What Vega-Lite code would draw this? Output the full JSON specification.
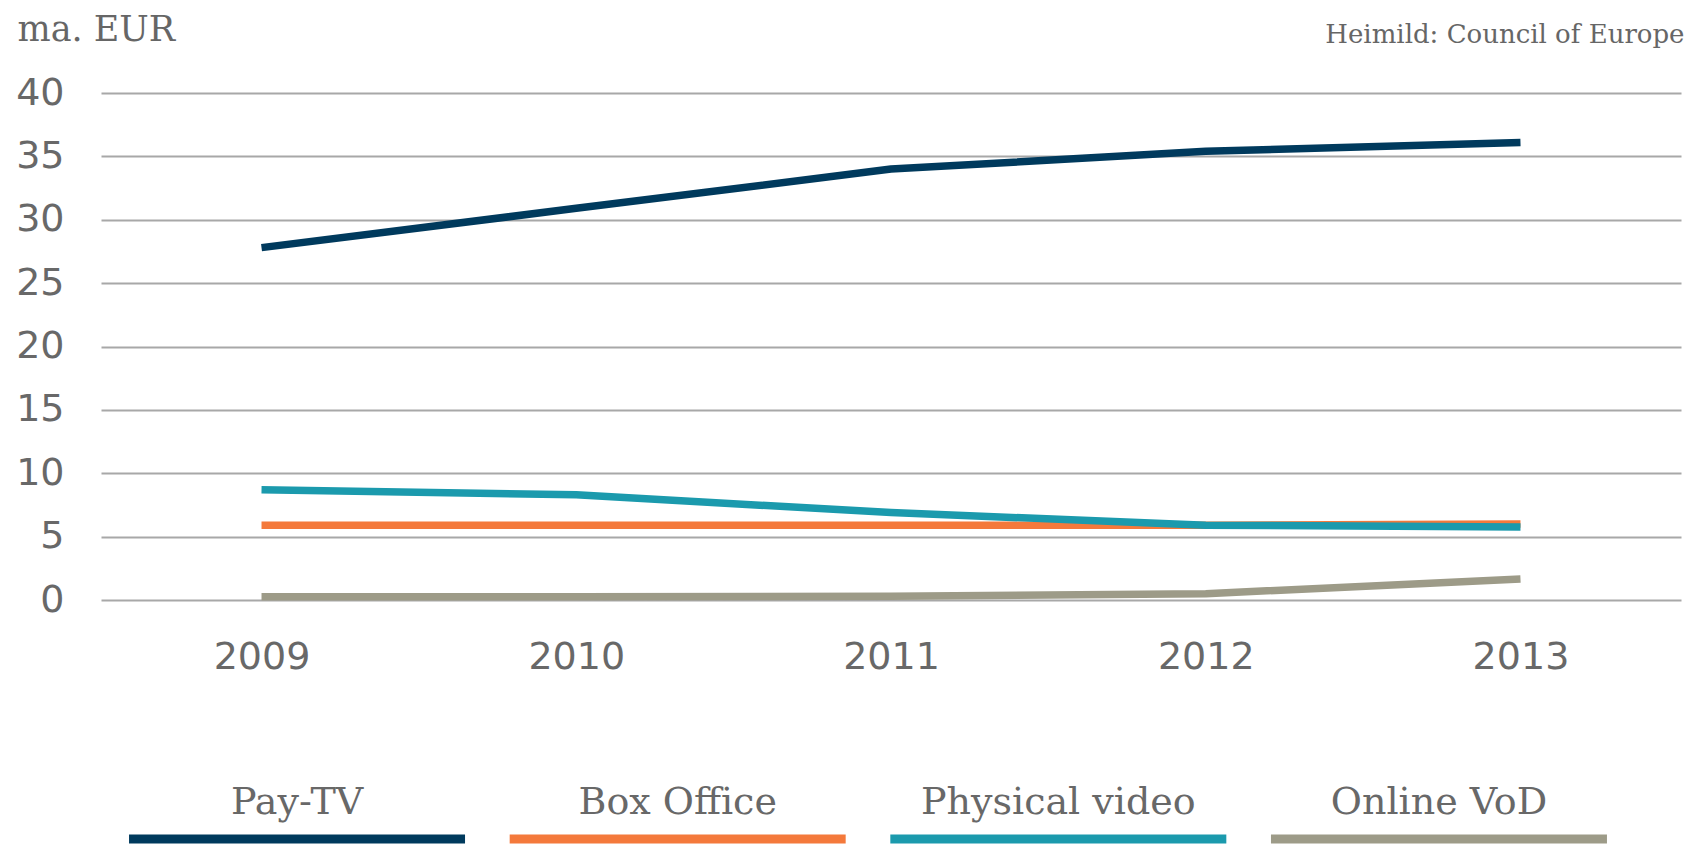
{
  "$schema": "https://vega.github.io/schema/vega-lite/v6.json",
  "padding": {"left": 15, "top": 12, "right": 0, "bottom": 0},
  "autosize": {"type": "pad"},
  "background": "white",
  "config": {"view": {"stroke": null}, "font": "DejaVu Sans"},
  "bounds": "flush",
  "spacing": 199,
  "datasets": {
    "series": [
      {"series": "Pay-TV", "year": "2009", "value": 27.8},
      {"series": "Pay-TV", "year": "2010", "value": 30.9},
      {"series": "Pay-TV", "year": "2011", "value": 34.0},
      {"series": "Pay-TV", "year": "2012", "value": 35.4},
      {"series": "Pay-TV", "year": "2013", "value": 36.1},
      {"series": "Box Office", "year": "2009", "value": 5.9},
      {"series": "Box Office", "year": "2010", "value": 5.9},
      {"series": "Box Office", "year": "2011", "value": 5.9},
      {"series": "Box Office", "year": "2012", "value": 5.9},
      {"series": "Box Office", "year": "2013", "value": 6.0},
      {"series": "Physical video", "year": "2009", "value": 8.7},
      {"series": "Physical video", "year": "2010", "value": 8.3},
      {"series": "Physical video", "year": "2011", "value": 6.9},
      {"series": "Physical video", "year": "2012", "value": 5.9},
      {"series": "Physical video", "year": "2013", "value": 5.75},
      {"series": "Online VoD", "year": "2009", "value": 0.25},
      {"series": "Online VoD", "year": "2010", "value": 0.25},
      {"series": "Online VoD", "year": "2011", "value": 0.3},
      {"series": "Online VoD", "year": "2012", "value": 0.5},
      {"series": "Online VoD", "year": "2013", "value": 1.65}
    ],
    "legend": [
      {"series": "Pay-TV"},
      {"series": "Box Office"},
      {"series": "Physical video"},
      {"series": "Online VoD"}
    ]
  },
  "vconcat": [
    {
      "width": 1580,
      "height": 507,
      "data": {"name": "series"},
      "mark": {"type": "line", "strokeWidth": 7.5, "interpolate": "linear", "strokeJoin": "round"},
      "encoding": {
        "x": {
          "field": "year",
          "type": "ordinal",
          "scale": {"type": "point", "padding": 0.51},
          "axis": {
            "labelAngle": 0,
            "labelFont": "DejaVu Sans",
            "labelFontSize": 38,
            "labelColor": "#686868",
            "labelPadding": 38,
            "ticks": false,
            "domain": false,
            "grid": false,
            "title": "Heimild: Council of Europe",
            "titleFont": "DejaVu Serif",
            "titleFontSize": 26,
            "titleFontWeight": "normal",
            "titleColor": "#666666",
            "titleX": 1583,
            "titleY": -558,
            "titleAlign": "right",
            "titleBaseline": "alphabetic"
          }
        },
        "y": {
          "field": "value",
          "type": "quantitative",
          "scale": {"domain": [0, 40], "nice": false},
          "axis": {
            "values": [0, 5, 10, 15, 20, 25, 30, 35, 40],
            "labelFont": "DejaVu Sans",
            "labelFontSize": 38,
            "labelColor": "#686868",
            "labelPadding": 37,
            "ticks": false,
            "domain": false,
            "grid": true,
            "gridColor": "#a8a8a8",
            "gridWidth": 2,
            "title": "ma. EUR",
            "titleFont": "DejaVu Serif",
            "titleFontSize": 35,
            "titleFontWeight": "normal",
            "titleColor": "#666666",
            "titleAngle": 0,
            "titleX": -84,
            "titleY": -53,
            "titleAlign": "left",
            "titleBaseline": "alphabetic"
          }
        },
        "color": {
          "field": "series",
          "type": "nominal",
          "scale": {
            "domain": ["Pay-TV", "Box Office", "Physical video", "Online VoD"],
            "range": ["#003a5d", "#f4793b", "#1b9aad", "#9d9b88"]
          },
          "legend": null
        }
      }
    },
    {
      "width": 1534,
      "height": 40,
      "data": {"name": "legend"},
      "layer": [
        {
          "mark": {"type": "tick", "orient": "horizontal", "size": 336, "thickness": 9, "yOffset": 20, "opacity": 1},
          "encoding": {
            "x": {"field": "series", "type": "nominal", "sort": null, "scale": {"type": "point", "padding": 0.515}, "axis": null},
            "color": {"field": "series", "type": "nominal", "legend": null}
          }
        },
        {
          "mark": {"type": "text", "font": "DejaVu Serif", "fontSize": 38, "baseline": "alphabetic", "yOffset": -5, "color": "#686868"},
          "encoding": {
            "x": {"field": "series", "type": "nominal", "sort": null, "scale": {"type": "point", "padding": 0.515}, "axis": null},
            "text": {"field": "series"}
          }
        }
      ]
    }
  ]
}
